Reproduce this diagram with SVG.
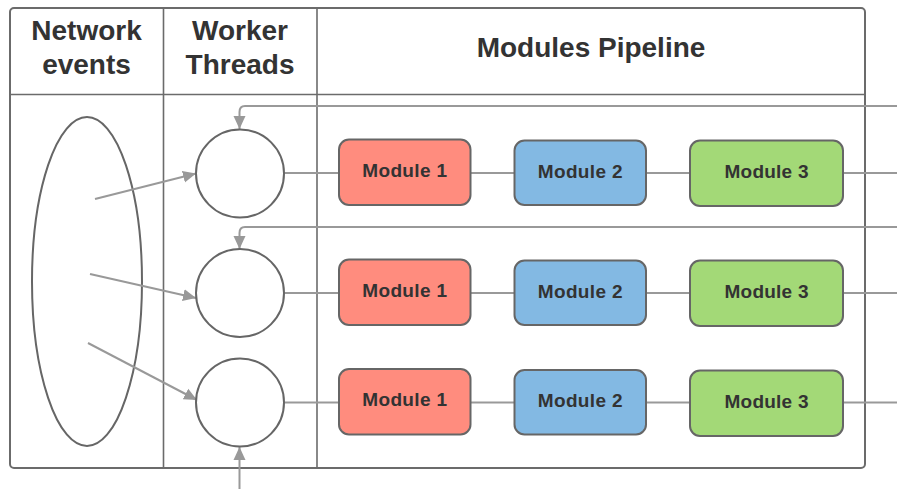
<svg xmlns="http://www.w3.org/2000/svg" width="897" height="489" viewBox="0 0 897 489">
  <defs>
    <marker id="arrow" markerUnits="userSpaceOnUse" markerWidth="14" markerHeight="14" viewBox="0 0 14 14" refX="13" refY="7" orient="auto">
      <path d="M0,1 L13,7 L0,13 z" fill="#999999"/>
    </marker>
    <style>
      .frame { fill: none; stroke: #6b6b6b; stroke-width: 2; }
      .divider { fill: none; stroke: #6b6b6b; stroke-width: 1.6; }
      .head { font-family: "Liberation Sans", Arial, sans-serif; font-weight: bold; font-size: 28px; fill: #333333; text-anchor: middle; }
      .shape { fill: #ffffff; stroke: #666666; stroke-width: 2; }
      .hollow { fill: none; stroke: #666666; stroke-width: 2; }
      .mod { stroke: #666666; stroke-width: 2; }
      .m1 { fill: #ff8c7e; }
      .m2 { fill: #83b9e3; }
      .m3 { fill: #a3d977; }
      .label { font-family: "Liberation Sans", Arial, sans-serif; font-weight: bold; font-size: 19px; fill: #333333; text-anchor: middle; }
      .link { fill: none; stroke: #999999; stroke-width: 2; }
    </style>
  </defs>

  <!-- Table frame and lanes -->
  <g id="frame">
    <rect class="frame" x="10" y="8" width="855" height="460" rx="4"/>
    <line class="divider" x1="10" y1="94.5" x2="865" y2="94.5"/>
    <line class="divider" x1="163.5" y1="8" x2="163.5" y2="468"/>
    <line class="divider" x1="317" y1="8" x2="317" y2="468"/>
    <text class="head" x="86.5" y="39.5">Network</text>
    <text class="head" x="86.5" y="73.5">events</text>
    <text class="head" x="240" y="39.5">Worker</text>
    <text class="head" x="240" y="73.5">Threads</text>
    <text class="head" x="591" y="56.5">Modules Pipeline</text>
  </g>

  <!-- Event source (outline only, the arrows start inside it) -->
  <g id="events">
    <ellipse class="hollow" cx="87" cy="281.5" rx="55" ry="164.5"/>
  </g>

  <!-- Connectors -->
  <g id="connectors">
    <!-- events to workers -->
    <line class="link" x1="95" y1="199" x2="196" y2="173.5" marker-end="url(#arrow)"/>
    <line class="link" x1="90" y1="274" x2="196" y2="298" marker-end="url(#arrow)"/>
    <line class="link" x1="88" y1="343" x2="197" y2="400" marker-end="url(#arrow)"/>
    <!-- feedback into workers -->
    <path class="link" d="M897,106 H245 Q239.5,106 239.5,112 V129" marker-end="url(#arrow)"/>
    <path class="link" d="M897,227 H245 Q239.5,227 239.5,233 V249" marker-end="url(#arrow)"/>
    <path class="link" d="M239.5,489 V447" marker-end="url(#arrow)"/>
    <!-- pipeline row 1 -->
    <line class="link" x1="284" y1="173" x2="339" y2="173"/>
    <line class="link" x1="471" y1="173" x2="514" y2="173"/>
    <line class="link" x1="646" y1="173" x2="690" y2="173"/>
    <line class="link" x1="843" y1="173" x2="897" y2="173"/>
    <!-- pipeline row 2 -->
    <line class="link" x1="284" y1="293" x2="339" y2="293"/>
    <line class="link" x1="471" y1="293" x2="514" y2="293"/>
    <line class="link" x1="646" y1="293" x2="690" y2="293"/>
    <line class="link" x1="843" y1="293" x2="897" y2="293"/>
    <!-- pipeline row 3 -->
    <line class="link" x1="284" y1="402.5" x2="339" y2="402.5"/>
    <line class="link" x1="471" y1="402.5" x2="514" y2="402.5"/>
    <line class="link" x1="646" y1="402.5" x2="690" y2="402.5"/>
    <line class="link" x1="843" y1="402.5" x2="897" y2="402.5"/>
  </g>

  <!-- Worker threads -->
  <g id="worker-1"><circle class="shape" cx="240" cy="173.5" r="44"/></g>
  <g id="worker-2"><circle class="shape" cx="240" cy="293" r="44"/></g>
  <g id="worker-3"><circle class="shape" cx="240" cy="402.5" r="44"/></g>

  <!-- Row 1 modules -->
  <g id="r1-module-1">
    <rect class="mod m1" x="339" y="139.5" width="131.5" height="65.5" rx="10"/>
    <text class="label" x="404.7" y="177" textLength="85">Module 1</text>
  </g>
  <g id="r1-module-2">
    <rect class="mod m2" x="514.5" y="140.5" width="131.5" height="64.5" rx="10"/>
    <text class="label" x="580.2" y="177.5" textLength="85">Module 2</text>
  </g>
  <g id="r1-module-3">
    <rect class="mod m3" x="690" y="140.5" width="153" height="65.5" rx="10"/>
    <text class="label" x="766.5" y="178" textLength="84">Module 3</text>
  </g>

  <!-- Row 2 modules -->
  <g id="r2-module-1">
    <rect class="mod m1" x="339" y="259.5" width="131.5" height="65.5" rx="10"/>
    <text class="label" x="404.7" y="296.5" textLength="85">Module 1</text>
  </g>
  <g id="r2-module-2">
    <rect class="mod m2" x="514.5" y="260.5" width="131.5" height="64.5" rx="10"/>
    <text class="label" x="580.2" y="297.5" textLength="85">Module 2</text>
  </g>
  <g id="r2-module-3">
    <rect class="mod m3" x="690" y="260.5" width="153" height="65.5" rx="10"/>
    <text class="label" x="766.5" y="298" textLength="84">Module 3</text>
  </g>

  <!-- Row 3 modules -->
  <g id="r3-module-1">
    <rect class="mod m1" x="339" y="369" width="131.5" height="65.5" rx="10"/>
    <text class="label" x="404.7" y="406" textLength="85">Module 1</text>
  </g>
  <g id="r3-module-2">
    <rect class="mod m2" x="514.5" y="370" width="131.5" height="64.5" rx="10"/>
    <text class="label" x="580.2" y="407" textLength="85">Module 2</text>
  </g>
  <g id="r3-module-3">
    <rect class="mod m3" x="690" y="370.5" width="153" height="65.5" rx="10"/>
    <text class="label" x="766.5" y="408" textLength="84">Module 3</text>
  </g>
</svg>
